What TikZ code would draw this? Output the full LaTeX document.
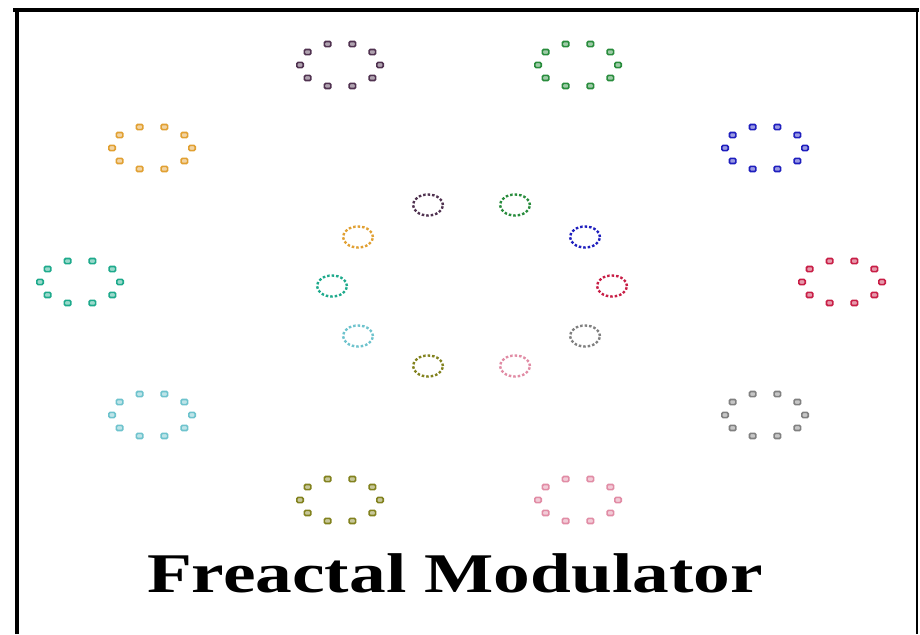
\documentclass[tikz,border=0pt]{standalone}
\usepackage{fontspec}
\setmainfont{Liberation Serif}
\definecolor{cPur}{RGB}{80,50,80}
\definecolor{cGrn}{RGB}{40,140,60}
\definecolor{cOra}{RGB}{225,160,50}
\definecolor{cBlu}{RGB}{30,30,190}
\definecolor{cTea}{RGB}{30,170,140}
\definecolor{cRed}{RGB}{200,30,70}
\definecolor{cCya}{RGB}{110,195,205}
\definecolor{cGry}{RGB}{128,128,128}
\definecolor{cOli}{RGB}{130,130,30}
\definecolor{cPnk}{RGB}{225,140,165}
\begin{document}
\begin{tikzpicture}[x=1pt,y=1pt,
  odot/.style={draw=#1, fill=#1!45, line width=1.6pt, rounded corners=1.2pt},
  idash/.style={draw=#1, line width=2.4pt, dash pattern=on 2.5pt off 2pt},
  frameline/.style={draw=black, line width=#1}]
\fill[white] (0,0) rectangle (920,-634);
\useasboundingbox (0,0) rectangle (920,-634);
% frame
\draw[frameline=4.5pt] (17,-634) -- (17,-10);
\draw[frameline=4pt] (13,-10) -- (919,-10);
\draw[frameline=2.5pt] (917,-8) -- (917,-634);
% outer rings
\foreach \x/\y/\c in {340/65/cPur, 578/65/cGrn, 152/148/cOra, 765/148/cBlu, 80/282/cTea, 842/282/cRed, 152/415/cCya, 765/415/cGry, 340/500/cOli, 578/500/cPnk}{
  \foreach \a in {0,36,...,324}{
    \draw[odot=\c] (\x,-\y) ++(\a:40pt and 22pt) ++(-3.2,-2.6) rectangle ++(6.4,5.2);
  }
}
% inner rings
\foreach \x/\y/\c in {428/205/cPur, 515/205/cGrn, 358/237/cOra, 585/237/cBlu, 332/286/cTea, 612/286/cRed, 358/336/cCya, 585/336/cGry, 428/366/cOli, 515/366/cPnk}{
  \draw[idash=\c] (\x,-\y) ellipse (15 and 10.5);
}
\node[font=\bfseries\fontsize{56}{60}\selectfont, xscale=1.31, anchor=base, inner sep=0pt] (title) at (455,-592) {Freactal Modulator};
\end{tikzpicture}
\end{document}
